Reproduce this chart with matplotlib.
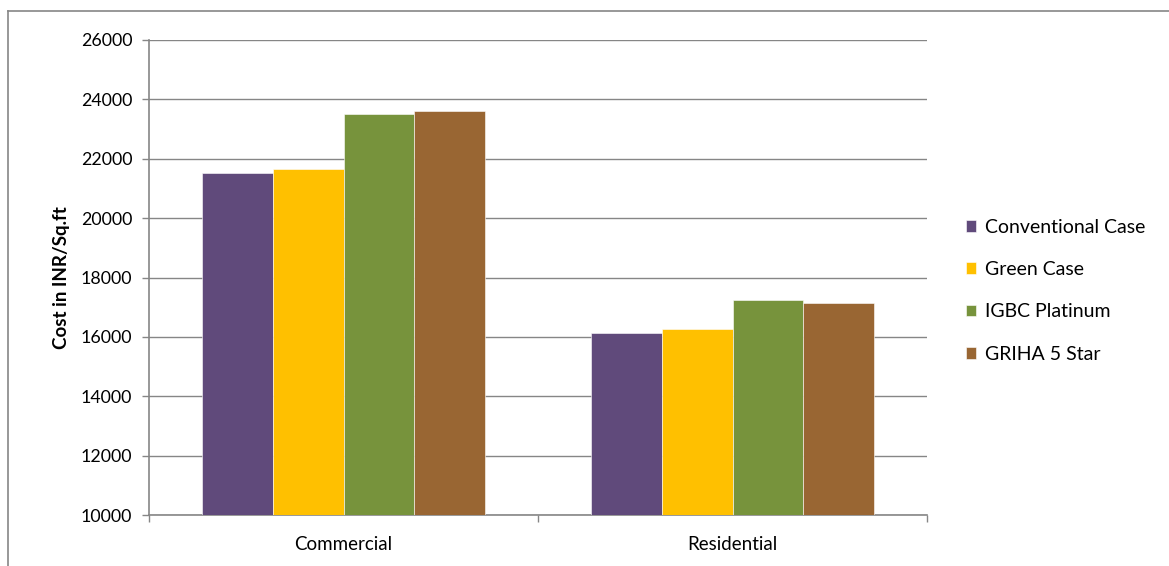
import numpy as np
import matplotlib.pyplot as plt
from matplotlib.lines import Line2D

# Data
categories = ['Commercial', 'Residential']
series_names = ['Conventional Case', 'Green Case', 'IGBC Platinum', 'GRIHA 5 Star']
conventional = [21530, 16140]
green = [21660, 16250]
igbc = [23500, 17230]
griha = [23620, 17130]
y_ticks = [10000, 12000, 14000, 16000, 18000, 20000, 22000, 24000, 26000]

plt.rcParams['font.family'] = ['Lato', 'DejaVu Sans']
colors = ['#604A7B', '#FFC000', '#77933C', '#996633']
grid_gray = '#868686'

fig = plt.figure(figsize=(11.69, 5.66), dpi=100)
fig.patch.set_facecolor('white')
ax = fig.add_axes([149 / 1169, 1 - 515 / 566, (927 - 149) / 1169, (515 - 40) / 566])

x = np.arange(len(categories))
width = 0.182
all_series = [conventional, green, igbc, griha]
for i, (name, vals) in enumerate(zip(series_names, all_series)):
    offs = (i - 1.5) * width
    ax.bar(x + offs, [v - 10000 for v in vals], width, bottom=10000,
           color=colors[i], label=name, edgecolor='white', linewidth=0.4, zorder=3)

ax.set_xlim(-0.5, 1.5)
ax.set_ylim(10000, 26000)
ax.set_yticks(y_ticks)
ax.set_yticklabels([str(t) for t in y_ticks], fontsize=12.8)
ax.yaxis.grid(True, color=grid_gray, linewidth=1.0, zorder=0)
ax.set_axisbelow(True)

# category labels centered, ticks at category boundaries
ax.set_xticks([-0.5, 0.5, 1.5])
ax.set_xticklabels([])
ax.set_xticks(x, minor=True)
ax.set_xticklabels(categories, minor=True, fontsize=13.5)
ax.tick_params(axis='x', which='minor', length=0, pad=15)
ax.tick_params(axis='x', which='major', length=5, color=grid_gray, width=1)
ax.tick_params(axis='y', length=5, color=grid_gray, width=1, pad=7)

for side in ['top', 'right']:
    ax.spines[side].set_visible(False)
for side in ['left', 'bottom']:
    ax.spines[side].set_color(grid_gray)
    ax.spines[side].set_linewidth(1.2)

ax.set_ylabel('Cost in INR/Sq.ft', fontsize=13.5, fontweight='bold', labelpad=8)

leg = ax.legend(loc='center left', bbox_to_anchor=(1.027, 0.472), frameon=False,
                fontsize=14, handlelength=0.55, handleheight=0.55, handletextpad=0.45,
                labelspacing=1.3)

# outer chart frame (top and left edges visible)
fig.add_artist(Line2D([7.5 / 1169, 7.5 / 1169], [0, 1 - 10.5 / 566],
                      transform=fig.transFigure, color=grid_gray, linewidth=1.2))
fig.add_artist(Line2D([7.5 / 1169, 1], [1 - 10.5 / 566, 1 - 10.5 / 566],
                      transform=fig.transFigure, color=grid_gray, linewidth=1.2))

fig.savefig('out.png', dpi=100)
